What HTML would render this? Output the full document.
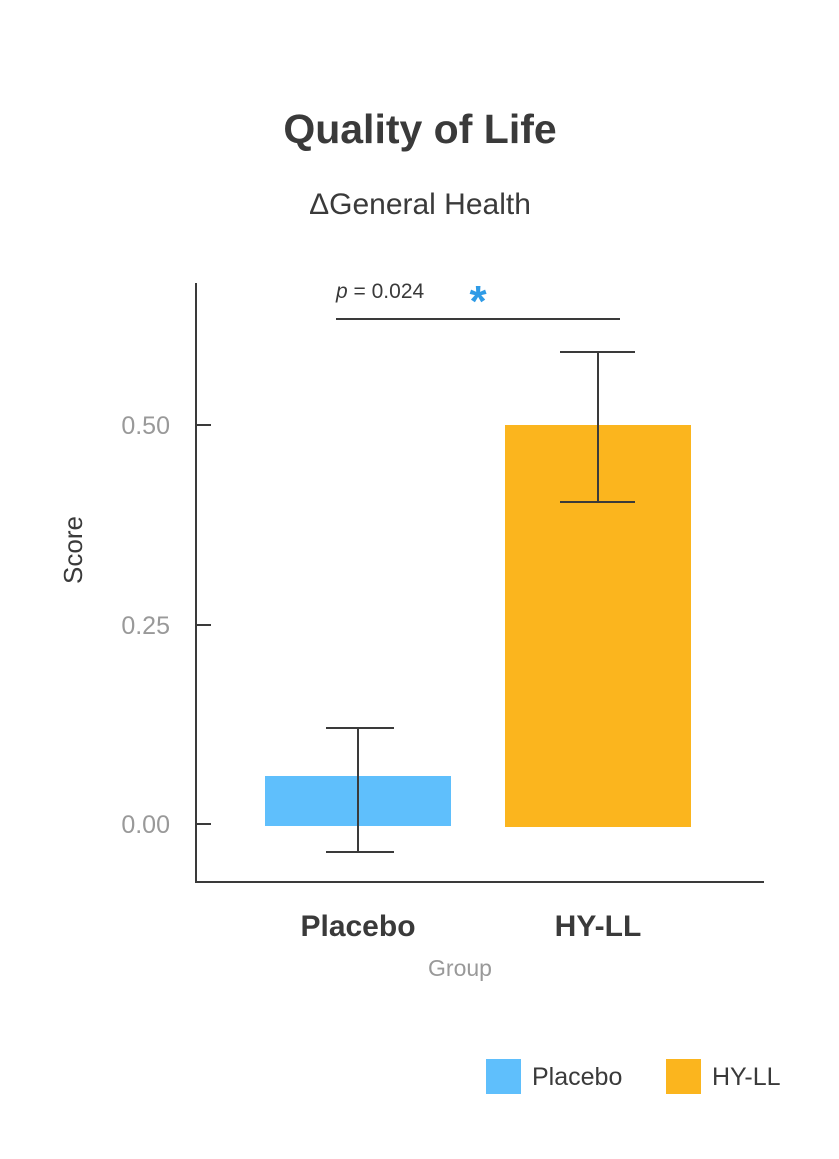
<!DOCTYPE html>
<html><head><style>
body{margin:0;background:#fff;}
svg text{font-family:"Liberation Sans","DejaVu Sans",sans-serif;}
</style></head><body>
<svg width="839" height="1154" xmlns="http://www.w3.org/2000/svg">
<rect width="839" height="1154" fill="#fff"/>
<text x="420" y="143" text-anchor="middle" font-size="41" font-weight="bold" fill="#3a3a3a">Quality of Life</text>
<text x="420" y="214" text-anchor="middle" font-size="30" fill="#3a3a3a">ΔGeneral Health</text>
<g stroke="#3a3a3a" stroke-width="2" fill="none">
<line x1="196" y1="283" x2="196" y2="882"/>
<line x1="195" y1="882" x2="764" y2="882"/>
<line x1="196" y1="425" x2="211" y2="425"/>
<line x1="196" y1="625" x2="211" y2="625"/>
<line x1="196" y1="824" x2="211" y2="824"/>
</g>
<g font-size="25" fill="#999" text-anchor="end">
<text x="170" y="434">0.50</text>
<text x="170" y="634">0.25</text>
<text x="170" y="833">0.00</text>
</g>
<text transform="translate(82,550) rotate(-90)" text-anchor="middle" font-size="26" fill="#3a3a3a">Score</text>
<rect x="265" y="776" width="186" height="50" fill="#5fbffc"/>
<rect x="505" y="425" width="186" height="402" fill="#fbb51e"/>
<g stroke="#3a3a3a" stroke-width="2">
<line x1="358" y1="728" x2="358" y2="852"/>
<line x1="326" y1="728" x2="394" y2="728"/>
<line x1="326" y1="852" x2="394" y2="852"/>
<line x1="598" y1="352" x2="598" y2="502"/>
<line x1="560" y1="352" x2="635" y2="352"/>
<line x1="560" y1="502" x2="635" y2="502"/>
<line x1="336" y1="319" x2="620" y2="319"/>
</g>
<text x="336" y="298" font-size="21" fill="#3a3a3a"><tspan font-style="italic">p</tspan> = 0.024</text>
<text x="478" y="316" text-anchor="middle" font-size="44" font-weight="bold" fill="#2f9be6">*</text>
<text x="358" y="936" text-anchor="middle" font-size="30" font-weight="bold" fill="#3a3a3a">Placebo</text>
<text x="598" y="936" text-anchor="middle" font-size="30" font-weight="bold" fill="#3a3a3a">HY-LL</text>
<text x="460" y="976" text-anchor="middle" font-size="23" fill="#999">Group</text>
<rect x="486" y="1059" width="35" height="35" fill="#5fbffc"/>
<text x="532" y="1085" font-size="25" fill="#3a3a3a">Placebo</text>
<rect x="666" y="1059" width="35" height="35" fill="#fbb51e"/>
<text x="712" y="1085" font-size="25" fill="#3a3a3a">HY-LL</text>
</svg>
</body></html>
